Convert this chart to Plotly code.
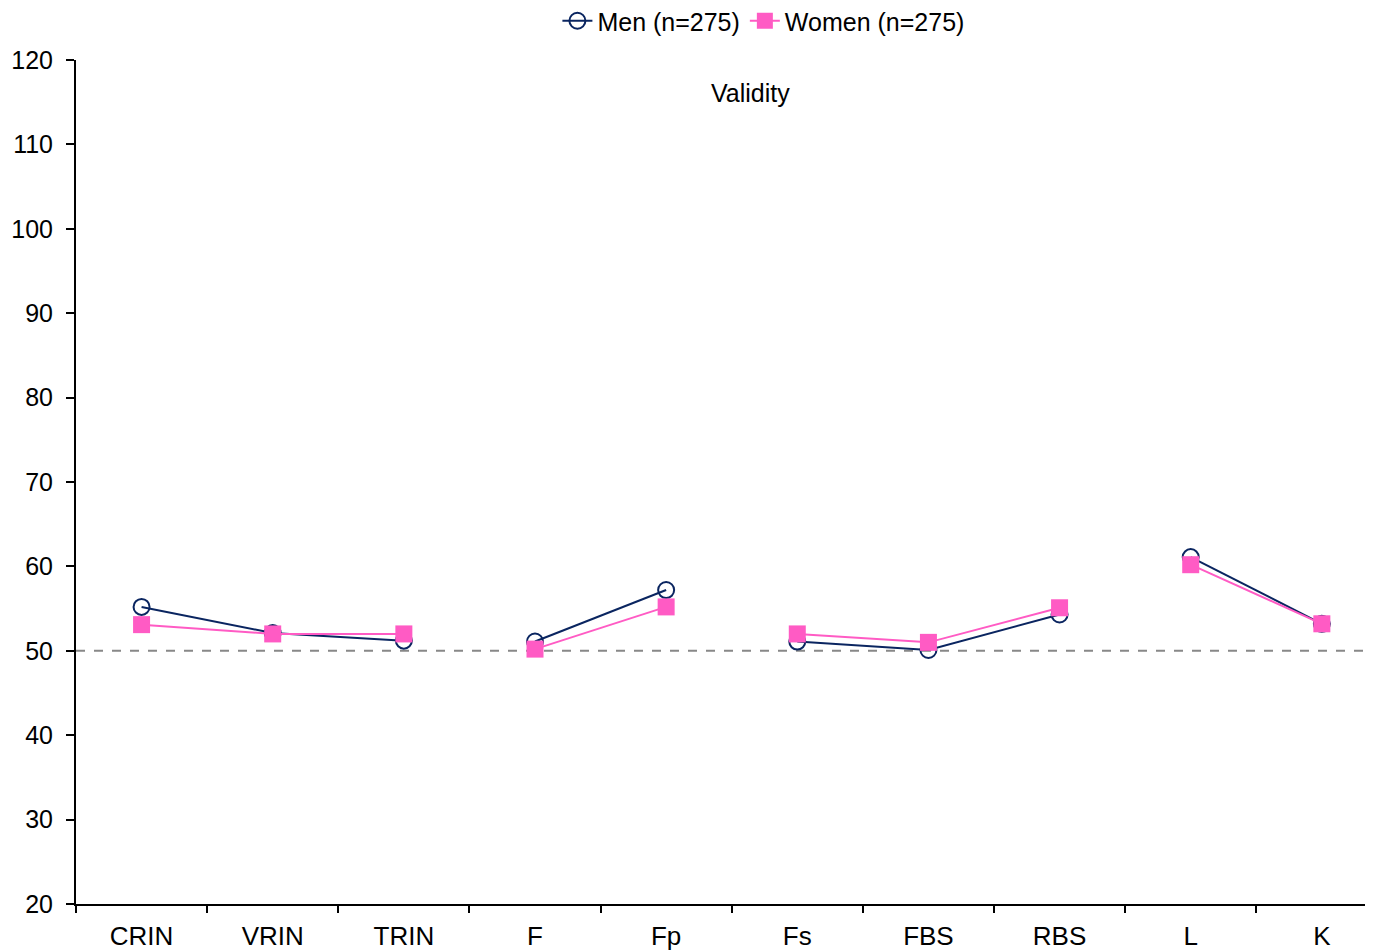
import plotly.graph_objects as go

categories = ["CRIN", "VRIN", "TRIN", "F", "Fp", "Fs", "FBS", "RBS", "L", "K"]
groups = [["CRIN", "VRIN", "TRIN"], ["F", "Fp"], ["Fs", "FBS", "RBS"], ["L", "K"]]
men = [55.2, 52.1, 51.2, 51.1, 57.2, 51.1, 50.1, 54.3, 61.1, 53.2]
women = [53.1, 52.0, 52.0, 50.2, 55.2, 52.0, 51.0, 55.1, 60.2, 53.2]
y_ticks = list(range(20, 121, 10))


def with_gaps(values):
    lookup = dict(zip(categories, values))
    xs, ys = [], []
    for i, g in enumerate(groups):
        if i:
            xs.append(None)
            ys.append(None)
        for c in g:
            xs.append(c)
            ys.append(lookup[c])
    return xs, ys


fig = go.Figure()
mx, my = with_gaps(men)
wx, wy = with_gaps(women)
fig.add_trace(go.Scatter(
    x=mx, y=my, mode="lines+markers", name="Men (n=275)",
    line=dict(color="#0a2560", width=2),
    marker=dict(symbol="circle-open", size=16, color="#0a2560", line=dict(width=2)),
    connectgaps=False,
))
fig.add_trace(go.Scatter(
    x=wx, y=wy, mode="lines+markers", name="Women (n=275)",
    line=dict(color="#ff5bc4", width=2),
    marker=dict(symbol="square", size=17, color="#ff5bc4"),
    connectgaps=False,
))

fig.add_shape(type="line", xref="paper", yref="y", x0=0, x1=1, y0=50, y1=50,
              line=dict(color="#888888", width=2, dash="dash"), layer="below")

fig.add_annotation(text="Validity", xref="x", yref="y", x=4.64, y=116.1,
                   showarrow=False, font=dict(size=25, color="#000000"))

fig.update_layout(
    width=1365, height=943,
    margin=dict(l=68, r=0, t=52, b=47, autoexpand=False),
    plot_bgcolor="white", paper_bgcolor="white",
    font=dict(family="Liberation Sans, Arial, sans-serif", size=25, color="#000000"),
    showlegend=True,
    legend=dict(orientation="h", x=0.53, xanchor="center", yref="container",
                y=1 - 13 / 943, yanchor="middle",
                font=dict(size=25), tracegroupgap=0),
    xaxis=dict(
        type="category", categoryorder="array", categoryarray=categories,
        range=[-0.5, 9.39], showline=True, linecolor="#000000", linewidth=2,
        ticks="outside", tickson="boundaries", ticklen=7, tickwidth=2, tickcolor="#000000",
        showgrid=False, zeroline=False, tickfont=dict(size=26), automargin=False,
        ticklabelstandoff=8,
    ),
    yaxis=dict(
        range=[20, 120], tickvals=y_ticks, showline=True, linecolor="#000000", linewidth=2,
        ticks="outside", ticklen=8, tickwidth=2, tickcolor="#000000",
        showgrid=False, zeroline=False, tickfont=dict(size=25), automargin=False,
        ticklabelstandoff=8,
    ),
)

fig.write_html("out.html")
